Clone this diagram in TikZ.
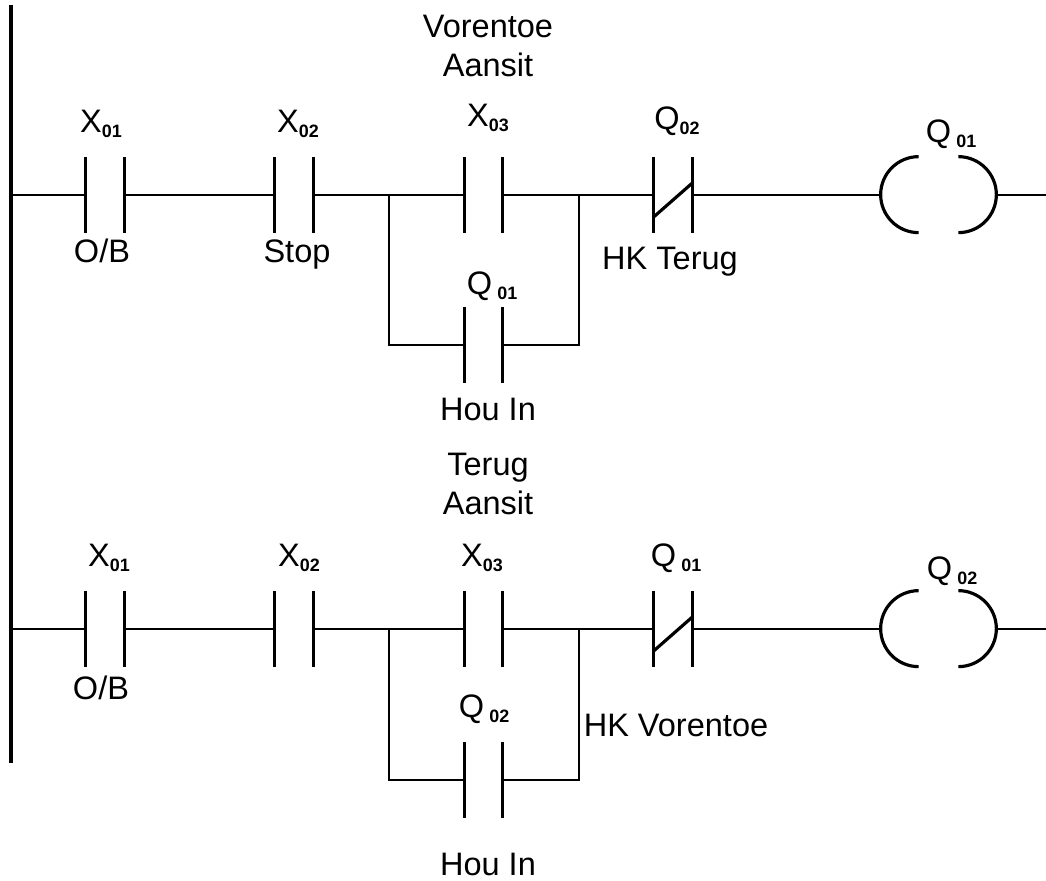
\documentclass[tikz,border=0pt]{standalone}
\usepackage{fontspec}
\setmainfont{Liberation Sans}
\usetikzlibrary{calc}
\tikzset{contact/.style = {shape=rectangle,minimum width=0.76cm,minimum height=1.5cm,inner sep=0pt}}
\tikzset{coil/.style = {shape=rectangle,minimum width=2.3cm,minimum height=1.52cm,inner sep=0pt}}
\tikzset{lbl/.style = {anchor=base,inner sep=0pt,font=\fontsize{18.5}{22.2}\selectfont}}
\tikzset{wire/.style = {line width=1.6pt}}
\tikzset{plate/.style = {line width=1.8pt}}
\newcommand{\lad}[3][0pt]{#2\kern#1\raisebox{-2.4pt}{\fontsize{10.2}{12}\selectfont\bfseries #3}}

\begin{document}
\begin{tikzpicture}
                \useasboundingbox (0,0) rectangle (20.92,17.6);

                % rail
                \coordinate (top) at (0.22,17.5);
                \coordinate (bot) at (0.22,2.34);
                \coordinate (r1) at (0.22,13.7);
                \coordinate (r2) at (0.22,5.02);
                \coordinate (e1) at (20.92,13.7);
                \coordinate (e2) at (20.92,5.02);
                \coordinate (bl1) at (7.78,13.7);
                \coordinate (br1) at (11.58,13.7);
                \coordinate (bl2) at (7.78,5.02);
                \coordinate (br2) at (11.58,5.02);

                % rung 1
                \node[contact] (a1) at (2.10,13.7) {};
                \node[contact] (a2) at (5.88,13.7) {};
                \node[contact] (a3) at (9.67,13.7) {};
                \node[contact] (a4) at (9.67,10.7) {};
                \node[contact] (a5) at (13.46,13.7) {};
                \node[coil] (q1) at (18.77,13.7) {};

                % rung 2
                \node[contact] (b1) at (2.10,5.02) {};
                \node[contact] (b2) at (5.88,5.02) {};
                \node[contact] (b3) at (9.67,5.02) {};
                \node[contact] (b4) at (9.67,2.0) {};
                \node[contact] (b5) at (13.46,5.02) {};
                \node[coil] (q2) at (18.77,5.02) {};

                % labels rung 1
                \node[lbl] (la1) at (2.02,14.94) {\lad{X}{01}};
                \node[lbl] (lb1) at (2.04,12.34) {O/B};
                \node[lbl] (la2) at (5.96,14.94) {\lad{X}{02}};
                \node[lbl] (lb2) at (5.94,12.34) {Stop};
                \node[lbl,align=center] (lt3) at (9.76,16.06) {Vorentoe\\Aansit};
                \node[lbl] (la3) at (9.76,15.06) {\lad{X}{03}};
                \node[lbl] (la4) at (9.84,11.70) {\lad[3pt]{Q}{01}};
                \node[lbl] (lb4) at (9.76,9.18) {Hou In};
                \node[lbl] (la5) at (13.54,15.0) {\lad{Q}{02}};
                \node[lbl] (lb5) at (13.40,12.20) {HK Terug};
                \node[lbl] (lq1) at (19.02,14.74) {\lad[3pt]{Q}{01}};

                % labels rung 2
                \node[lbl] (lc1) at (2.18,6.26) {\lad{X}{01}};
                \node[lbl] (ld1) at (2.02,3.60) {O/B};
                \node[lbl] (lc2) at (5.98,6.26) {\lad{X}{02}};
                \node[lbl,align=center] (lt8) at (9.76,7.30) {Terug\\Aansit};
                \node[lbl] (lc3) at (9.64,6.26) {\lad{X}{03}};
                \node[lbl] (lc4) at (9.68,3.24) {\lad[3pt]{Q}{02}};
                \node[lbl] (ld4) at (9.76,0.10) {Hou In};
                \node[lbl] (lc5) at (13.52,6.26) {\lad[3pt]{Q}{01}};
                \node[lbl] (ld5) at (13.52,2.86) {HK Vorentoe};
                \node[lbl] (lq2) at (19.04,6.00) {\lad[3pt]{Q}{02}};

                \draw[plate] (top) -- (bot);

                % contact plates
                \foreach \c in {a1,a2,a3,a4,a5,b1,b2,b3,b4,b5}
                    \draw[plate] (\c.north west) -- (\c.south west)
                                 (\c.north east) -- (\c.south east);
                \draw[plate] ([yshift=-0.44cm]a5.west) -- ([yshift=0.24cm]a5.east);
                \draw[plate] ([yshift=-0.44cm]b5.west) -- ([yshift=0.24cm]b5.east);

                % coils
                \foreach \q in {q1,q2} {
                    \draw[plate] ([xshift=0.76cm]\q.north west) arc[start angle=90,end angle=270,radius=0.76cm];
                    \draw[plate] ([xshift=-0.76cm]\q.north east) arc[start angle=90,end angle=-90,radius=0.76cm];
                }

                % wires rung 1
                \draw[wire] (r1) -- (a1.west);
                \draw[wire] (a1.east) -- (a2.west);
                \draw[wire] (a2.east) -- (a3.west);
                \draw[wire] (a3.east) -- (a5.west);
                \draw[wire] (bl1) |- (a4.west);
                \draw[wire] (a4.east) -| (br1);
                \draw[wire] (a5.east) -- (q1.west);
                \draw[wire] (q1.east) -- (e1);

                % wires rung 2
                \draw[wire] (r2) -- (b1.west);
                \draw[wire] (b1.east) -- (b2.west);
                \draw[wire] (b2.east) -- (b3.west);
                \draw[wire] (b3.east) -- (b5.west);
                \draw[wire] (bl2) |- (b4.west);
                \draw[wire] (b4.east) -| (br2);
                \draw[wire] (b5.east) -- (q2.west);
                \draw[wire] (q2.east) -- (e2);
\end{tikzpicture}
\end{document}
